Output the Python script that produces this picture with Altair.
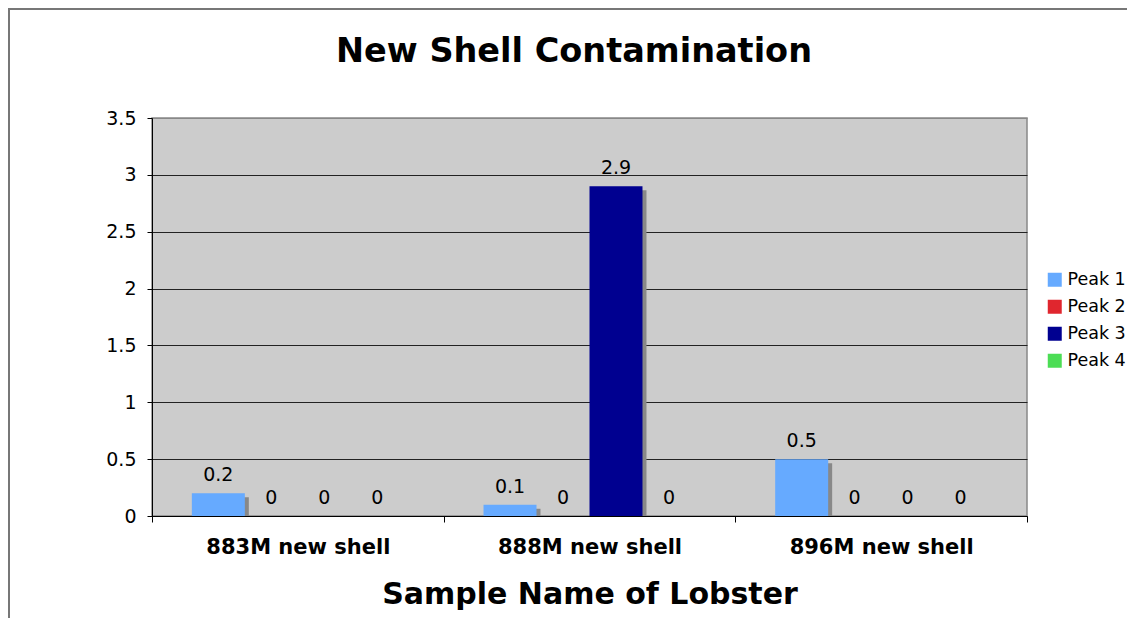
import altair as alt
import pandas as pd

categories = ["883M new shell", "888M new shell", "896M new shell"]
series = ["Peak 1", "Peak 2", "Peak 3", "Peak 4"]
peak1 = [0.2, 0.1, 0.5]
peak2 = [0, 0, 0]
peak3 = [0, 2.9, 0]
peak4 = [0, 0, 0]
colors = ["#66AAFF", "#E0262E", "#000090", "#4CDD55"]
title_text = "New Shell Contamination"

rows = []
for s, vals in zip(series, [peak1, peak2, peak3, peak4]):
    for c, v in zip(categories, vals):
        rows.append({"cat": c, "peak": s, "value": v})
df = pd.DataFrame(rows)

FONT = "DejaVu Sans"
W, H = 875, 398

x_enc = alt.X("cat:N", sort=categories,
              scale=alt.Scale(type="band", paddingInner=0, paddingOuter=0),
              axis=alt.Axis(title="Sample Name of Lobster", labelAngle=0, labelLimit=0,
                            labelFont=FONT, labelFontSize=21, labelFontWeight="bold",
                            labelColor="black", labelPadding=14,
                            titleFont=FONT, titleFontSize=30, titleFontWeight="bold",
                            titleColor="black", titlePadding=22,
                            domainColor="black", tickColor="black", tickSize=6,
                            tickBand="extent", grid=False))
xoff = alt.XOffset("peak:N", sort=series,
                   scale=alt.Scale(type="band", paddingInner=0, paddingOuter=0.752))
xoff_shadow = alt.XOffset("peak:N", sort=series,
                          scale=alt.Scale(type="band", paddingInner=0, paddingOuter=0.752,
                                          align=0.55))
y_enc = alt.Y("value:Q",
              scale=alt.Scale(domain=[0, 3.5], nice=False),
              axis=alt.Axis(title=None, values=[0, 0.5, 1, 1.5, 2, 2.5, 3, 3.5],
                            format=".1~f", labelFont=FONT, labelFontSize=19,
                            labelColor="black", labelPadding=11,
                            domainColor="black", tickColor="black", tickSize=5,
                            gridColor={"condition": {"test": "datum.value >= 3.5", "value": "#888888"},
                                       "value": "#222222"},
                            gridOpacity=1, gridWidth=1))

base = alt.Chart(df)

shadow = base.mark_bar(color="#888888", yOffset=4, clip=True).encode(
    x=x_enc, xOffset=xoff_shadow, y=y_enc)

bars = base.mark_bar().encode(
    x=x_enc, xOffset=xoff, y=y_enc,
    color=alt.Color("peak:N", sort=series,
                    scale=alt.Scale(domain=series, range=colors),
                    legend=alt.Legend(title=None, orient="none", legendX=894, legendY=153,
                                      symbolType="square", symbolSize=196,
                                      symbolStrokeWidth=0, labelFont=FONT,
                                      labelFontSize=17.5, labelColor="black", labelLimit=0,
                                      rowPadding=8, labelOffset=4)))

labels = base.mark_text(font=FONT, fontSize=19, color="black", baseline="alphabetic",
                        dy=-12).encode(
    x=x_enc, xOffset=xoff, y=y_enc, text=alt.Text("value:Q", format="~g"))

title = alt.Chart(pd.DataFrame({"t": [title_text]})).mark_text(
    font=FONT, fontSize=33.5, fontWeight="bold", color="black",
    align="center", baseline="middle", clip=False).encode(
    x=alt.value(422), y=alt.value(-66), text="t:N")

border_top = alt.Chart(pd.DataFrame({"a": [0]})).mark_rule(
    color="#777777", strokeWidth=2, clip=False).encode(
    x=alt.value(-144), x2=alt.value(W + 100), y=alt.value(-109))
border_left = alt.Chart(pd.DataFrame({"a": [0]})).mark_rule(
    color="#777777", strokeWidth=2, clip=False).encode(
    x=alt.value(-143), y=alt.value(-110), y2=alt.value(H + 110))

chart = alt.layer(shadow, bars, labels, title, border_top, border_left).resolve_scale(
    xOffset="independent"
).properties(
    width=W, height=H,
    autosize=alt.AutoSizeParams(type="none"),
    padding={"left": 144, "top": 110, "right": 100, "bottom": 102},
).configure_view(fill="#CCCCCC", stroke="#888888", strokeWidth=1.5)

chart.save("out.html", embed_options={"renderer": "svg", "actions": False})
